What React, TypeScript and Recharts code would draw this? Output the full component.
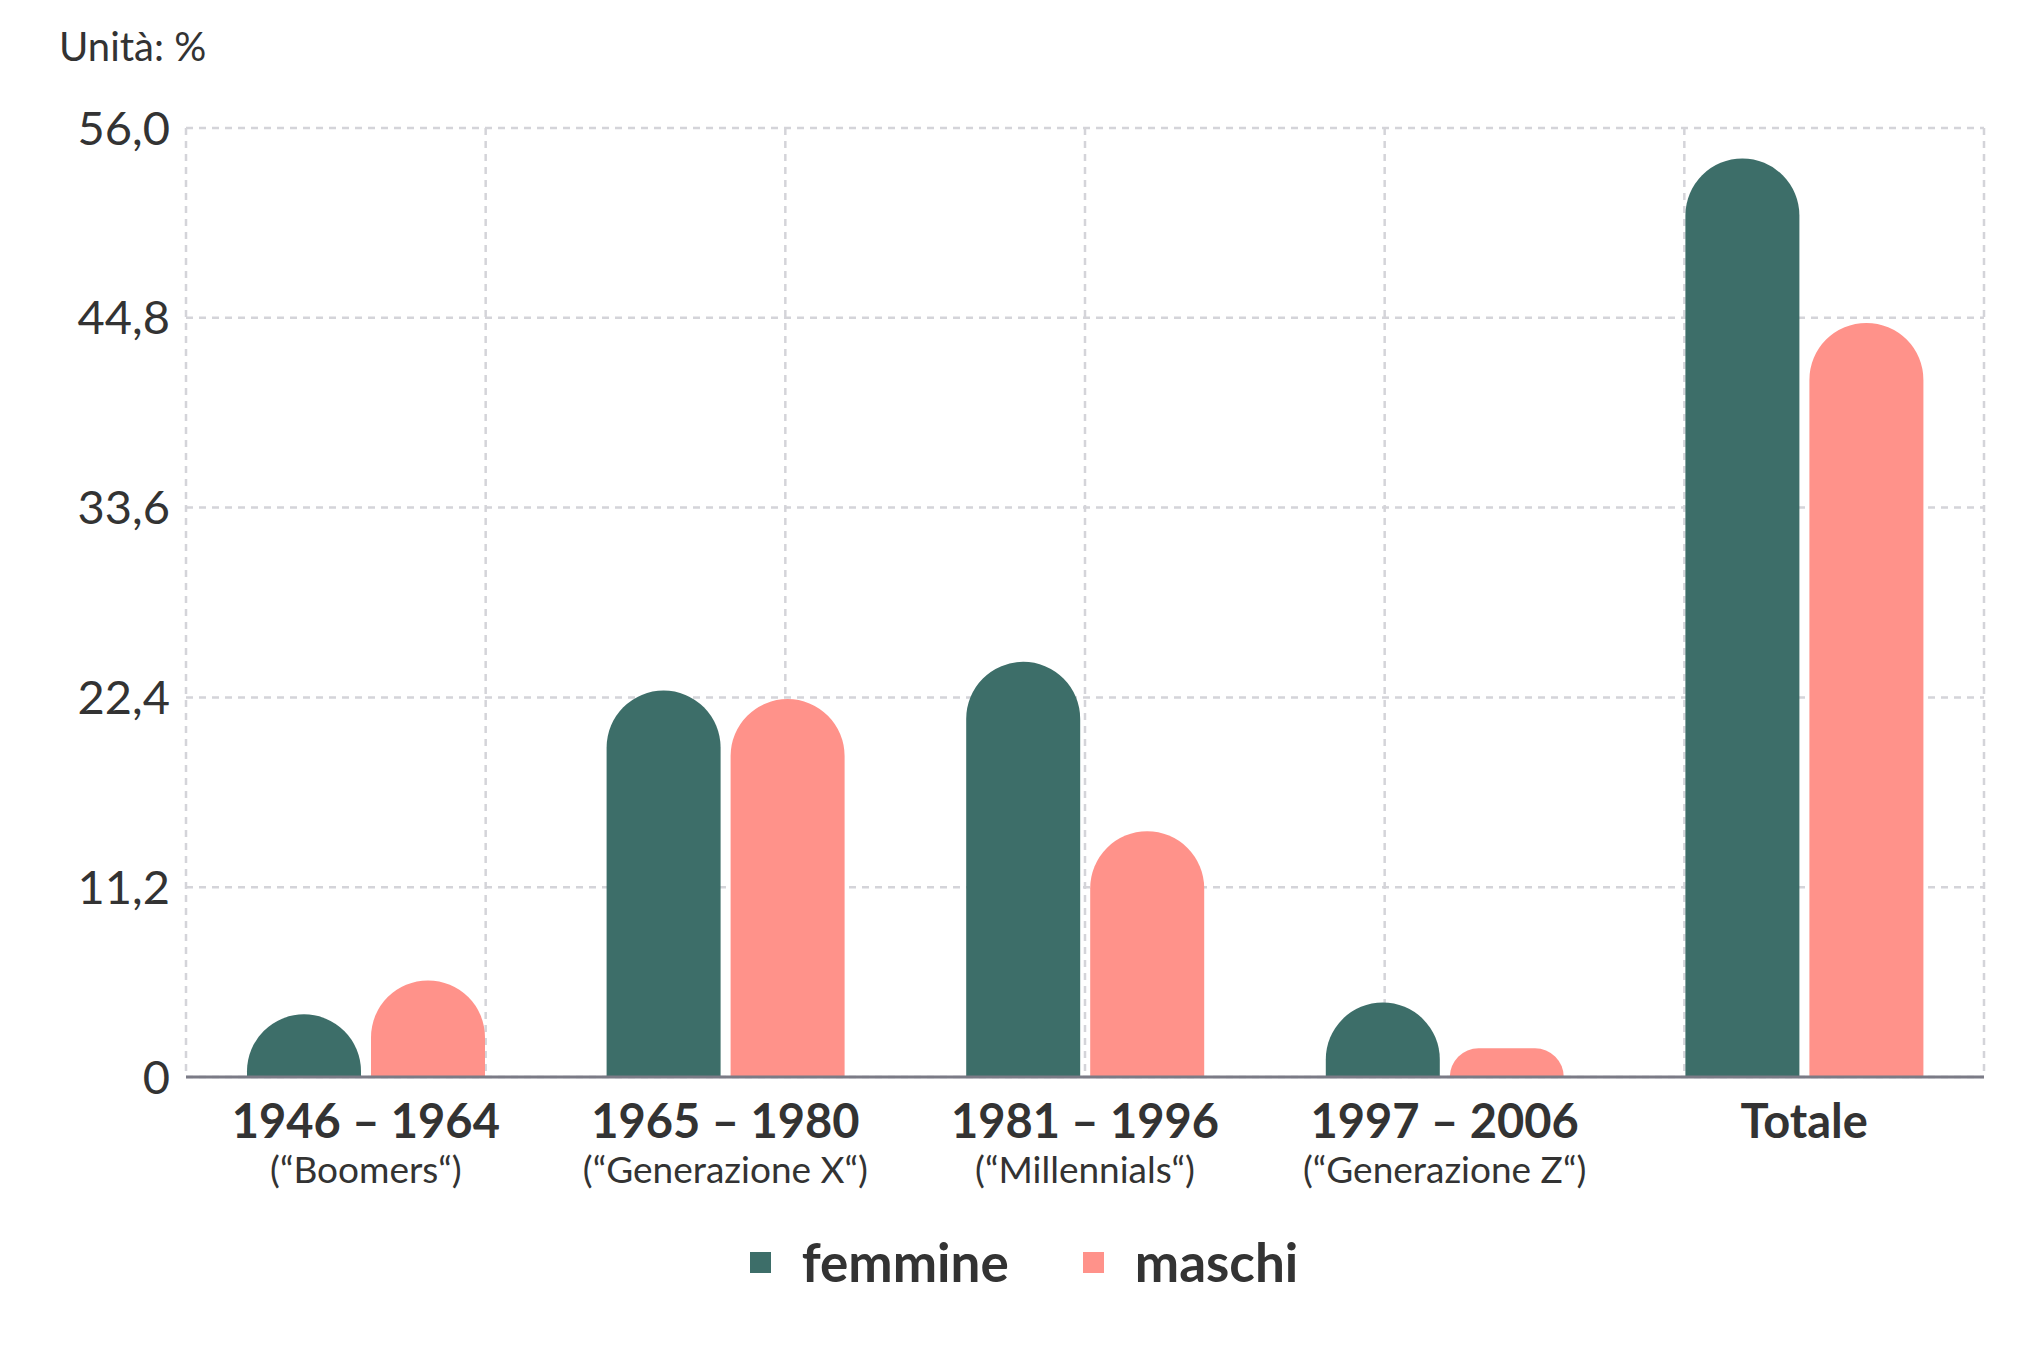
import React from 'react';
import { BarChart, Bar, XAxis, YAxis, CartesianGrid, Legend } from 'recharts';

const categories = ['1946 – 1964', '1965 – 1980', '1981 – 1996', '1997 – 2006', 'Totale'];
const subLabels = ['(“Boomers“)', '(“Generazione X“)', '(“Millennials“)', '(“Generazione Z“)', ''];
const femmine = [3.7, 22.8, 24.5, 4.4, 54.2];
const maschi = [5.7, 22.3, 14.5, 1.7, 44.5];
const yTicks = [0, 11.2, 22.4, 33.6, 44.8, 56];

const data = categories.map((c, i) => ({ cat: c, femmine: femmine[i], maschi: maschi[i] }));

const FONT = 'Lato, "Open Sans", sans-serif';
const TEXT = '#333333';
const TEAL = '#3D6E69';
const SALMON = '#FF928A';

const DomeBar = (props: any) => {
  const { x, y, width, height, fill } = props;
  if (!height || height <= 0) return null;
  const r = Math.min(width / 2, height);
  const b = y + height;
  const d = `M${x},${b} L${x},${y + r} A${r},${r} 0 0 1 ${x + r},${y} L${x + width - r},${y} A${r},${r} 0 0 1 ${x + width},${y + r} L${x + width},${b} Z`;
  return <path d={d} fill={fill} />;
};

const CatTick = (props: any) => {
  const { x, y, payload } = props;
  const sub = subLabels[payload.index];
  return (
    <g transform={`translate(${x},${y})`}>
      <text x={0} y={61} textAnchor="middle" fill={TEXT} fontFamily={FONT} fontWeight={700} fontSize={47}>
        {payload.value}
      </text>
      {sub ? (
        <text x={0} y={106} textAnchor="middle" fill={TEXT} fontFamily={FONT} fontWeight={400} fontSize={37}>
          {sub}
        </text>
      ) : null}
    </g>
  );
};

const LegendContent = (props: any) => {
  const { payload } = props;
  return (
    <div style={{ display: 'flex', justifyContent: 'center', alignItems: 'center', height: 80, marginTop: -7, paddingRight: 22 }}>
      {(payload || []).map((e: any, i: number) => (
        <div key={i} style={{ display: 'flex', alignItems: 'center', marginLeft: i === 0 ? 0 : 74 }}>
          <div style={{ width: 21, height: 21, background: e.color, marginRight: 31 }} />
          <span style={{ fontFamily: FONT, fontWeight: 700, fontSize: 53, color: TEXT, lineHeight: '80px' }}>{e.value}</span>
        </div>
      ))}
    </div>
  );
};

export default function App() {
  return (
    <div style={{ position: 'absolute', left: 0, top: 0, width: 2044, height: 1363, background: '#fff' }}>
      <div style={{ position: 'absolute', left: 59, top: 24, fontFamily: FONT, fontSize: 40, color: TEXT, lineHeight: '44px' }}>
        Unità: %
      </div>
      <BarChart
        width={2044}
        height={1363}
        data={data}
        margin={{ top: 128, right: 60, bottom: 54, left: 86 }}
        barSize={114}
        barGap={10}
      >
        <CartesianGrid
          stroke="#d4d4d9"
          strokeWidth={2.5}
          strokeDasharray="7 6"
          verticalCoordinatesGenerator={({ offset }: any) =>
            Array.from({ length: 7 }, (_, i) => offset.left + (i * offset.width) / 6)
          }
        />
        <XAxis
          dataKey="cat"
          height={152}
          tickLine={false}
          tickSize={0}
          tickMargin={0}
          axisLine={{ stroke: '#7b7b86', strokeWidth: 3 }}
          tick={<CatTick />}
          interval={0}
        />
        <YAxis
          width={100}
          domain={[0, 56]}
          ticks={yTicks}
          axisLine={false}
          tickLine={false}
          tickSize={0}
          tickMargin={16}
          tick={{ fill: TEXT, fontFamily: FONT, fontSize: 47 }}
          tickFormatter={(v: number) => (v === 0 ? '0' : v.toFixed(1).replace('.', ','))}
        />
        <Legend verticalAlign="bottom" height={80} content={<LegendContent />} />
        <Bar dataKey="femmine" name="femmine" fill={TEAL} shape={<DomeBar />} isAnimationActive={false} />
        <Bar dataKey="maschi" name="maschi" fill={SALMON} shape={<DomeBar />} isAnimationActive={false} />
      </BarChart>
    </div>
  );
}
